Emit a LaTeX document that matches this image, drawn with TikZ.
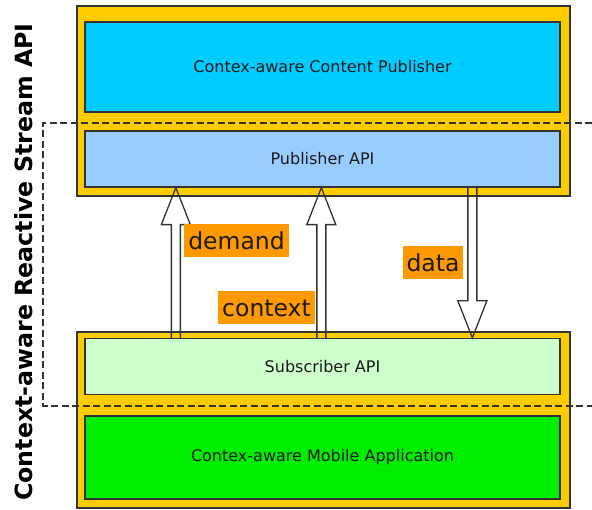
\documentclass[tikz,border=0pt]{standalone}
\usepackage{fontspec}
\setmainfont{DejaVu Sans}
\usetikzlibrary{calc}
\definecolor{boxyellow}{HTML}{FFCC00}
\definecolor{pubcyan}{HTML}{00CCFF}
\definecolor{pubapiblue}{HTML}{99CCFF}
\definecolor{subapigreen}{HTML}{CCFFCC}
\definecolor{appgreen}{HTML}{00EE00}
\definecolor{tagorange}{HTML}{FF9900}
\definecolor{linegray}{HTML}{333333}
\definecolor{textgray}{HTML}{1A1A1A}
\tikzstyle {outerbox} = [draw=linegray, line width=1.3pt, fill=boxyellow, inner sep=0pt, minimum width=493pt]
\tikzstyle {layer} = [draw=linegray, line width=1.3pt, inner sep=0pt, minimum width=475pt, text=textgray, font=\fontsize{16}{19}\selectfont]
\tikzstyle {tag} = [fill=tagorange, inner xsep=4pt, inner ysep=0pt, minimum height=33pt, text=textgray, font=\fontsize{23.5}{27}\selectfont]
\tikzstyle {hollowarrow} = [draw=linegray, line width=1.3pt, line join=miter]
\tikzstyle {boundary} = [draw=linegray, line width=1.2pt, dash pattern=on 7pt off 3.5pt]
% hollow block arrow from #1 to the tip #2 (vertical)
\newcommand{\blockarrow}[2]{%
  \draw [hollowarrow] let \p1=(#1), \p2=(#2), \n1={sign(\y2-\y1)} in
    (\x1-4.5pt,\y1) -- (\x1-4.5pt,\y2-\n1*37pt) -- (\x1-14.5pt,\y2-\n1*37pt)
    -- (\x1,\y2) -- (\x1+14.5pt,\y2-\n1*37pt) -- (\x1+4.5pt,\y2-\n1*37pt)
    -- (\x1+4.5pt,\y1);
}

\begin{document}
\begin{tikzpicture}[x=1pt, y=-1pt]
      \useasboundingbox (0,0) rectangle (592,510);
      % publisher side
      \node (outertop) [outerbox, minimum height=190pt] at (323.5,101) {};
      \node (publisher) [layer, fill=pubcyan, minimum height=90pt] at (322.5,67) {Contex-aware Content Publisher};
      \node (pubapi) [layer, fill=pubapiblue, minimum height=56pt] at (322.5,159) {Publisher API};
      % subscriber side
      \node (outerbottom) [outerbox, minimum height=176pt] at (323.5,420) {};
      \node (subapi) [layer, fill=subapigreen, minimum height=56pt] at (322.5,366.5) {Subscriber API};
      \node (mobileapp) [layer, fill=appgreen, minimum height=83pt] at (322.5,457.5) {Contex-aware Mobile Application};
      % flows
      \blockarrow{[xshift=91.5pt]subapi.north west}{[xshift=91.5pt]pubapi.south west}
      \blockarrow{[xshift=237pt]subapi.north west}{[xshift=237pt]pubapi.south west}
      \blockarrow{[xshift=388pt]pubapi.south west}{[xshift=388pt]subapi.north west}
      \node (demand) [tag] at (236.5,240.5) {demand};
      \node (context) [tag] at (266.5,308) {context};
      \node (data) [tag] at (433,262.5) {data};
      % API boundary
      \draw [boundary] (592,123) -- (43,123) -- (43,406) -- (592,406);
      \node (apititle) [rotate=90, anchor=base, font=\bfseries\fontsize{23.7}{28}\selectfont] at (32,262) {Context-aware Reactive Stream API};
\end{tikzpicture}
\end{document}
